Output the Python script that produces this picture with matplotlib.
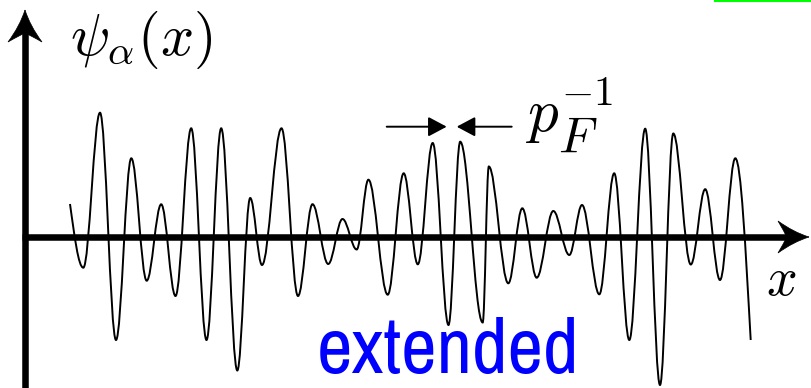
import matplotlib
matplotlib.use('Agg')
from matplotlib import pyplot as plt
from matplotlib.path import Path
from matplotlib.patches import PathPatch

plt.rcParams['mathtext.fontset'] = 'cm'

# turning points of psi_alpha(x) (arbitrary units, x-axis at 0)
x_turn = [45, 58.3, 75, 91, 106.3, 121.7, 136.2, 150.5, 166.2, 181.5, 196.2, 212.3,
          225.2, 237, 256.5, 273, 287.5, 303.2, 317.5, 331.7, 343.4, 362.7, 378.7,
          392.8, 407.7, 423.5, 435.2, 457.7, 463.8, 483.3, 497.3, 511.7, 528.3, 544.3,
          557, 574.3, 589.2, 604.3, 620.2, 635, 648.3, 665.8, 680.2, 695, 710.3, 725.7]
psi_turn = [33, -30.7, 124.3, -103, 78.7, -43.7, 32.7, -59, 108.7, -103, 108.7, -133.5,
            39, -28, 108.7, -59, 32.8, -27, 18, -12.5, 57.3, -57.7, 63.7,
            -27.3, 94, -88, 95.3, -85.5, 70.5, -46.3, 28.7, -40.7, 26, -18,
            32, -57.3, 63.7, -103, 108.3, -148, 103.5, -27.5, 47.8, -43, 78.7, -103]


def wave_path(xs, ys):
    # cubic segments between turning points (flat tangent at each extremum)
    verts = [(xs[0], ys[0])]
    codes = [Path.MOVETO]
    n = len(xs)
    for i in range(1, n):
        x0, y0 = xs[i - 1], ys[i - 1]
        x1, y1 = xs[i], ys[i]
        d = x1 - x0
        if i == 1:
            c1 = (x0 + d / 3, y0 + (y1 - y0) / 2)
        else:
            c1 = (x0 + 0.364 * d, y0)
        if i == n - 1:
            c2 = (x1 - d / 3, y1 - (y1 - y0) / 2)
        else:
            c2 = (x1 - 0.364 * d, y1)
        verts += [c1, c2, (x1, y1)]
        codes += [Path.CURVE4] * 3
    return Path(verts, codes)


def stealth_head(ax, tip, direction, length, half_width):
    ux, uy = direction
    vx, vy = -uy, ux
    loc = [(0, 0), (-0.5, 0.3), (-1, 1), (-0.8, 0.35), (-0.72, 0),
           (-0.8, -0.35), (-1, -1), (-0.5, -0.3), (0, 0)]
    pts = []
    for a, b in loc:
        a *= length
        b *= half_width
        pts.append((tip[0] + a * ux + b * vx, tip[1] + a * uy + b * vy))
    codes = [Path.MOVETO] + [Path.CURVE3] * 8
    ax.add_patch(PathPatch(Path(pts, codes), fc='black', ec='black', lw=0.5))


fig = plt.figure(figsize=(8.11, 3.88), dpi=100)
ax = fig.add_axes([0, 0, 1, 1])
ax.set_xlim(-25, 786)
ax.set_ylim(-151, 237)
ax.axis('off')

# coordinate axes
ax.plot([0, 0], [-160, 205], color='black', lw=4.7, solid_capstyle='butt')
ax.plot([-3, 762], [0, 0], color='black', lw=4.7, solid_capstyle='butt')
stealth_head(ax, (0, 227), (0, 1), 32, 17)
stealth_head(ax, (784, 0), (1, 0), 31, 16)

ax.add_patch(PathPatch(wave_path(x_turn, psi_turn), fc='none', ec='black', lw=1.4,
                       capstyle='butt'))

# wavelength marker
arr = dict(arrowstyle='-|>,head_length=0.75,head_width=0.4', mutation_scale=15,
           lw=1.4, color='black', shrinkA=0, shrinkB=0)
ax.annotate('', xy=(421.7, 110.3), xytext=(361.7, 110.3), arrowprops=arr)
ax.annotate('', xy=(431.7, 110.3), xytext=(486.7, 110.3), arrowprops=arr)

ax.text(45, 182, r'$\psi_\alpha(x)$', fontsize=42, ha='left', va='baseline')
ax.text(500, 106, r'$p$', fontsize=44, ha='left', va='baseline')
ax.text(533, 85, r'$F$', fontsize=36, ha='left', va='baseline')
ax.text(536, 132, r'$-1$', fontsize=30, ha='left', va='baseline')
ax.text(741, -58, r'$x$', fontsize=39, ha='left', va='baseline')
ax.text(292, -136, 'extended', fontsize=56, color='#0000ff', ha='left', va='baseline',
        family=['Liberation Sans Narrow', 'Archivo Narrow', 'DejaVu Sans'])

# thin green stroke at the top edge
ax.plot([690, 786], [236.5, 236.5], color='#00ff00', lw=1.5)

plt.savefig('out.png', dpi=100)
